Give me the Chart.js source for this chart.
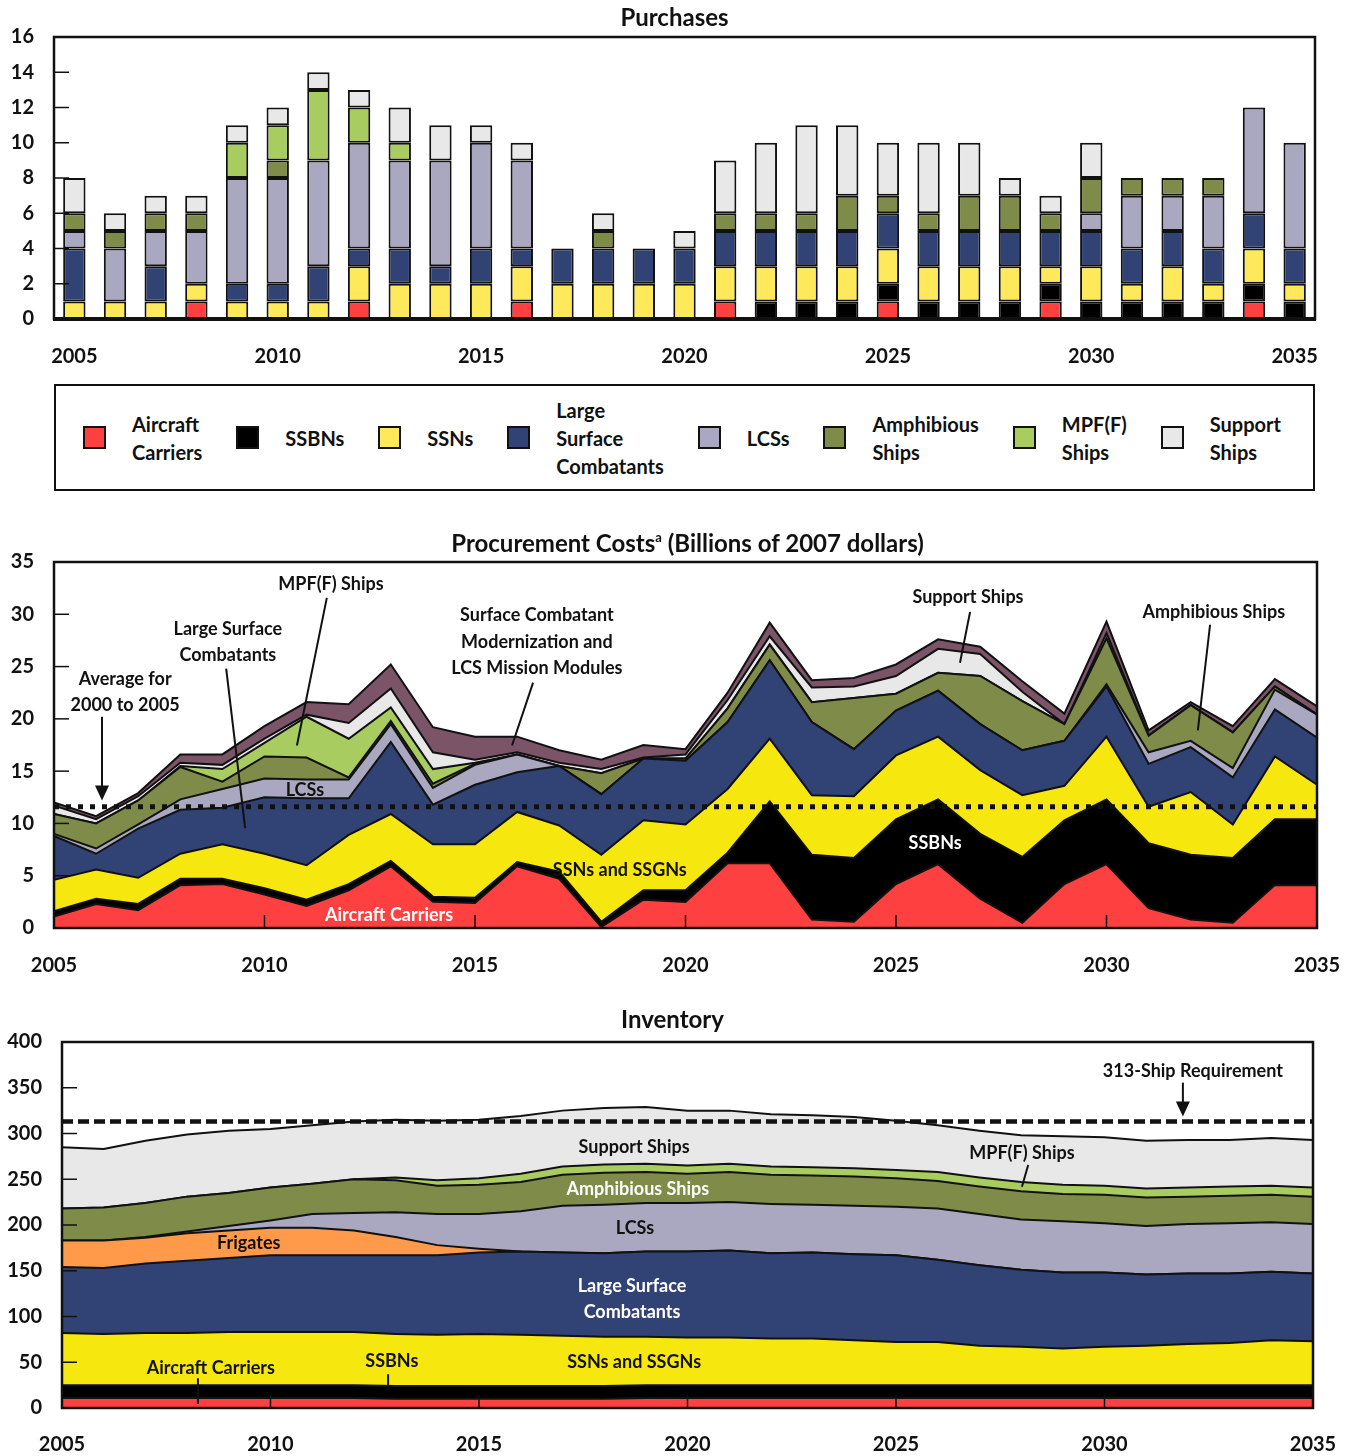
<!DOCTYPE html>
<html>
<head>
<meta charset="utf-8">
<script src="https://cdn.jsdelivr.net/npm/chart.js@4.4.1/dist/chart.umd.min.js"></script>
<style>
  body { margin: 0; background: #fff; font-family: Lato, "DejaVu Sans", sans-serif; color: #111; }
  #page { position: relative; width: 1355px; height: 1456px; overflow: hidden; }
  .panel { position: absolute; left: 0; }
  .title { position: absolute; left: 0; width: 1355px; text-align: center; font-weight: bold;
           font-size: 24px; line-height: 28px; z-index: 2; }
  .title sup { font-size: 13px; vertical-align: 10px; line-height: 0; }
  #legend { position: absolute; left: 54px; top: 384px; width: 1230px; height: 103px; padding-left: 27px;
            border: 2px solid #111; display: flex; align-items: center; gap: 34px; }
  .item { display: flex; align-items: center; }
  .swatch { width: 19px; height: 19px; border: 2px solid #111; margin-right: 26px; flex: none; }
  .label { font-weight: bold; font-size: 20px; line-height: 28px; }
</style>
</head>
<body>
<div id="page">
  <div class="title" style="top:3px; padding-right:6px; box-sizing:border-box">Purchases</div>
  <div class="panel" style="top:0"><canvas id="purchases" width="1355" height="375"></canvas></div>
  <div id="legend"></div>
  <div class="title" style="top:529px; padding-left:20px; box-sizing:border-box">Procurement Costs<sup>a</sup> (Billions of 2007 dollars)</div>
  <div class="panel" style="top:530px"><canvas id="costs" width="1355" height="460"></canvas></div>
  <div class="title" style="top:1005px; padding-right:10px; box-sizing:border-box">Inventory</div>
  <div class="panel" style="top:1010px"><canvas id="inventory" width="1355" height="446"></canvas></div>
</div>
<script>
// ---- data ----
var years = [2005, 2006, 2007, 2008, 2009, 2010, 2011, 2012, 2013, 2014, 2015,
             2016, 2017, 2018, 2019, 2020, 2021, 2022, 2023, 2024, 2025,
             2026, 2027, 2028, 2029, 2030, 2031, 2032, 2033, 2034, 2035];

// Purchases (number of ships)
var buyCarriers = [0,0,0,1,0,0,0,1,0,0,0,1,0,0,0,0,1,0,0,0,1,0,0,0,1,0,0,0,0,1,0];
var buySSBNs    = [0,0,0,0,0,0,0,0,0,0,0,0,0,0,0,0,0,1,1,1,1,1,1,1,1,1,1,1,1,1,1];
var buySSNs     = [1,1,1,1,1,1,1,2,2,2,2,2,2,2,2,2,2,2,2,2,2,2,2,2,1,2,1,2,1,2,1];
var buyLSCs     = [3,0,2,0,1,1,2,1,2,1,2,1,2,2,2,2,2,2,2,2,2,2,2,2,2,2,2,2,2,2,2];
var buyLCSs     = [1,3,2,3,6,6,6,6,5,6,6,5,0,0,0,0,0,0,0,0,0,0,0,0,0,1,3,2,3,6,6];
var buyAmphib   = [1,1,1,1,0,1,0,0,0,0,0,0,0,1,0,0,1,1,1,2,1,1,2,2,1,2,1,1,1,0,0];
var buyMPF      = [0,0,0,0,2,2,4,2,1,0,0,0,0,0,0,0,0,0,0,0,0,0,0,0,0,0,0,0,0,0,0];
var buySupport  = [2,1,1,1,1,1,1,1,2,2,1,1,0,1,0,1,3,4,5,4,3,4,3,1,1,2,0,0,0,0,0];

// Procurement costs (billions of 2007 dollars)
var costCarriers = [1.1,2.3,1.7,4.1,4.2,3.2,2.1,3.6,5.9,2.5,2.4,5.9,4.7,0.1,2.7,2.5,6.2,6.2,0.8,0.6,4.2,6.1,2.8,0.5,4.2,6.1,1.9,0.8,0.5,4.1,4.1];
var costSSBNs    = [0.5,0.5,0.6,0.6,0.5,0.6,0.6,0.6,0.5,0.5,0.5,0.4,0.7,0.5,0.9,1.1,1.0,5.9,6.2,6.1,6.2,6.2,6.2,6.3,6.1,6.2,6.2,6.2,6.2,6.3,6.3];
var costSSNs     = [3.0,2.8,2.5,2.4,3.3,3.3,3.3,4.7,4.5,5.0,5.1,4.8,4.4,6.4,6.7,6.3,6.1,6.0,5.7,5.9,6.1,6.0,6.1,5.9,3.3,6.0,3.5,6.0,3.2,6.0,3.3];
var costLSCs     = [4.2,1.5,4.7,4.2,3.5,5.4,6.4,3.5,6.9,3.8,5.7,3.8,5.7,5.8,5.9,6.1,6.4,7.5,7.0,4.5,4.3,4.4,4.4,4.3,4.3,4.8,4.1,4.3,4.5,4.5,4.5];
var costLCSs     = [0.2,0.5,0.4,1.0,1.8,1.8,1.8,1.8,1.7,1.6,1.9,1.7,0,0,0,0,0,0,0,0,0,0,0,0,0,0.2,1.1,0.6,0.9,1.9,2.2];
var costAmphib   = [1.9,2.4,2.3,3.1,0.7,2.1,2.1,0.2,0.3,0.4,0.1,0,0,2.0,0,0.2,1.3,1.5,1.9,4.9,1.6,1.7,4.6,4.7,1.6,4.4,1.6,3.4,3.4,0.3,0];
var costMPF      = [0,0,0,0.1,1.2,1.3,3.9,3.7,1.3,1.4,0.1,0,0,0,0,0,0,0,0,0,0,0,0,0,0,0,0,0,0,0,0];
var costSupport  = [0.8,0.4,0.4,0.3,0.4,0.4,0.2,1.5,1.8,1.6,0.3,0.2,0.3,0.4,0.1,0.4,0.8,0.8,1.4,1.1,1.7,2.3,2.1,0.9,0,0.5,0,0,0,0,0];
var costModern   = [0.3,0.3,0.3,0.8,1.0,1.2,1.2,1.8,2.3,2.4,2.2,1.5,1.2,0.9,1.2,0.5,0.7,1.3,0.7,0.8,1.1,0.9,0.7,1.0,1.0,1.1,0.5,0.3,0.6,0.7,0.8];
var costAverage20002005 = 11.6;

// Inventory (number of ships)
var invCarriers  = [11,11,11,11,11,11,11,11,10,10,10,10,10,10,11,11,11,11,11,11,11,11,11,11,11,11,11,11,11,11,11];
var invSSBNs     = [14,14,14,14,14,14,14,14,14,14,14,14,14,14,14,14,14,14,14,14,14,14,14,14,14,14,14,14,14,14,14];
var invSSNs      = [57,56,57,57,58,58,58,58,57,56,57,56,55,54,53,52,52,51,51,49,47,47,43,42,40,42,43,45,46,49,48];
var invLSCs      = [72,72,76,79,81,84,84,84,86,87,89,91,91,91,93,94,95,93,94,94,95,90,88,84,83,81,78,77,76,75,74];
var invFrigates  = [29,30,28,30,30,30,30,27,20,11,4,0,0,0,0,0,0,0,0,0,0,0,0,0,0,0,0,0,0,0,0];
var invLCSs      = [0,0,1,2,5,8,15,19,27,34,38,44,51,53,53,53,53,54,52,53,53,56,56,55,56,54,53,54,55,54,54];
var invAmphib    = [35,36,37,38,36,36,33,37,35,31,32,32,34,35,34,32,33,32,32,32,31,30,30,31,30,31,31,30,30,30,30];
var invMPF       = [0,0,0,0,0,0,0,0,3,6,7,9,9,9,9,9,9,9,9,9,9,10,10,10,10,10,10,10,10,10,10];
var invSupport   = [67,64,68,68,68,64,64,63,63,65,64,63,61,62,62,60,58,57,57,56,54,51,51,51,53,53,52,52,51,52,52];
var shipRequirement = 313;

// ---- styles ----
var RED = "#ff4040", BLACK = "#000000", NAVY = "#314275", LAV = "#aaa8c0",
    OLIVE = "#7f8b48", LGREEN = "#a9cc60", LGRAY = "#e8e8e8", MAUVE = "#7b5468",
    ORANGE = "#ff9a4a", YELLOW = "#f6e70f", BARYELLOW = "#fde95a";

Chart.defaults.font.family = "Lato, 'DejaVu Sans', sans-serif";
Chart.defaults.font.size = 20;
Chart.defaults.font.weight = "bold";
Chart.defaults.color = "#111";

// legend (html)
var legendItems = [
  [["Aircraft", "Carriers"], RED], [["SSBNs"], BLACK], [["SSNs"], BARYELLOW],
  [["Large", "Surface", "Combatants"], NAVY], [["LCSs"], LAV], [["Amphibious", "Ships"], OLIVE],
  [["MPF(F)", "Ships"], LGREEN], [["Support", "Ships"], LGRAY]
];
var legendEl = document.getElementById("legend");
legendItems.forEach(function(it) {
  var d = document.createElement("div");
  d.className = "item";
  d.innerHTML = '<div class="swatch" style="background:' + it[1] + '"></div><div class="label">' + it[0].join("<br>") + "</div>";
  legendEl.appendChild(d);
});

function yearTick(value, index) {
  return years[index] % 5 === 0 ? String(years[index]) : "";
}
// keep the plot edges fixed; the end labels may overhang into the margins
function fixX(h) {
  return function(s) { s.height = h; s.paddingLeft = 0; s.paddingRight = 0; };
}

// frame, inside ticks, reference lines and notes
var decoPlugin = {
  id: "deco",
  afterDraw: function(chart, args, o) {
    var ctx = chart.ctx, a = chart.chartArea, sx = chart.scales.x, sy = chart.scales.y;
    function X(yr) { return sx.getPixelForValue(yr - years[0]); }
    function line(x1, y1, x2, y2) { ctx.beginPath(); ctx.moveTo(x1, y1); ctx.lineTo(x2, y2); ctx.stroke(); }
    ctx.save();
    ctx.strokeStyle = "#111";
    ctx.fillStyle = "#111";

    if (o.refValue !== undefined) {
      ctx.lineWidth = o.refWidth;
      ctx.setLineDash(o.refDash);
      var ry = sy.getPixelForValue(o.refValue);
      line(a.left, ry, a.right, ry);
      ctx.setLineDash([]);
    }

    ctx.lineWidth = 1.5;
    sy.ticks.forEach(function(t) {
      var y = sy.getPixelForValue(t.value);
      line(a.left, y, a.left + 15, y);
    });
    (o.xTicks || []).forEach(function(yr) {
      var x = X(yr);
      line(x, a.bottom, x, a.bottom - 13);
    });

    ctx.lineWidth = 2.5;
    ctx.strokeRect(a.left, a.top, a.right - a.left, a.bottom - a.top);
    if (o.bottomWidth) {
      ctx.lineWidth = o.bottomWidth;
      line(a.left - 1, a.bottom, a.right + 1, a.bottom);
    }

    ctx.lineWidth = 2;
    (o.leaders || []).forEach(function(l) {
      var x1 = X(l.from[0]), y1 = sy.getPixelForValue(l.from[1]);
      var x2 = X(l.to[0]), y2 = sy.getPixelForValue(l.to[1]);
      if (l.arrow) {
        line(x1, y1, x2, y2 - 12);
        ctx.beginPath();
        ctx.moveTo(x2, y2);
        ctx.lineTo(x2 - 7, y2 - 15);
        ctx.lineTo(x2 + 7, y2 - 15);
        ctx.closePath();
        ctx.fill();
      } else {
        line(x1, y1, x2, y2);
      }
    });

    ctx.font = "bold 18px Lato, 'DejaVu Sans', sans-serif";
    ctx.textAlign = "center";
    ctx.textBaseline = "middle";
    (o.notes || []).forEach(function(n) {
      ctx.fillStyle = n.color || "#111";
      var x = X(n.at[0]), y = sy.getPixelForValue(n.at[1]);
      n.lines.forEach(function(t, i) { ctx.fillText(t, x, y + i * 26.5); });
    });
    ctx.restore();
  }
};
Chart.register(decoPlugin);

// ---- purchases ----
function barSet(label, data, color) {
  return { label: label, data: data.map(function(v) { return v === 0 ? null : v; }),
           backgroundColor: color, borderColor: "#111", borderWidth: 2,
           borderSkipped: false, barPercentage: 0.55, categoryPercentage: 1 };
}
new Chart(document.getElementById("purchases"), {
  type: "bar",
  data: {
    labels: years,
    datasets: [
      barSet("Aircraft Carriers", buyCarriers, RED),
      barSet("SSBNs", buySSBNs, BLACK),
      barSet("SSNs", buySSNs, BARYELLOW),
      barSet("Large Surface Combatants", buyLSCs, NAVY),
      barSet("LCSs", buyLCSs, LAV),
      barSet("Amphibious Ships", buyAmphib, OLIVE),
      barSet("MPF(F) Ships", buyMPF, LGREEN),
      barSet("Support Ships", buySupport, LGRAY)
    ]
  },
  options: {
    responsive: false,
    animation: false,
    layout: { padding: { top: 37, right: 40, left: 0, bottom: 0 } },
    plugins: { legend: { display: false }, tooltip: { enabled: false }, deco: { bottomWidth: 4 } },
    scales: {
      x: { stacked: true, grid: { display: false, drawTicks: false }, border: { display: false },
           ticks: { autoSkip: false, maxRotation: 0, padding: 26, callback: yearTick },
           afterFit: fixX(56) },
      y: { stacked: true, min: 0, max: 16, grid: { display: false, drawTicks: false }, border: { display: false },
           ticks: { stepSize: 2, padding: 20 },
           afterFit: function(s) { s.width = 54; } }
    }
  }
});

// ---- procurement costs ----
function areaSet(label, data, color, i) {
  return { label: label, data: data, backgroundColor: color, borderColor: "#111", borderWidth: 2,
           pointRadius: 0, tension: 0, fill: i === 0 ? "origin" : "-1" };
}
new Chart(document.getElementById("costs"), {
  type: "line",
  data: {
    labels: years,
    datasets: [
      areaSet("Aircraft Carriers", costCarriers, RED, 0),
      areaSet("SSBNs", costSSBNs, BLACK, 1),
      areaSet("SSNs and SSGNs", costSSNs, YELLOW, 2),
      areaSet("Large Surface Combatants", costLSCs, NAVY, 3),
      areaSet("LCSs", costLCSs, LAV, 4),
      areaSet("Amphibious Ships", costAmphib, OLIVE, 5),
      areaSet("MPF(F) Ships", costMPF, LGREEN, 6),
      areaSet("Support Ships", costSupport, LGRAY, 7),
      areaSet("Surface Combatant Modernization and LCS Mission Modules", costModern, MAUVE, 8)
    ]
  },
  options: {
    responsive: false,
    animation: false,
    layout: { padding: { top: 31, right: 38, left: 0, bottom: 0 } },
    plugins: {
      legend: { display: false }, tooltip: { enabled: false },
      deco: {
        refValue: costAverage20002005, refDash: [5, 7], refWidth: 5,
        xTicks: [2010, 2015, 2020, 2025, 2030],
        notes: [
          { lines: ["MPF(F) Ships"], at: [2011.58, 32.9] },
          { lines: ["Large Surface", "Combatants"], at: [2009.13, 28.6] },
          { lines: ["Average for", "2000 to 2005"], at: [2006.69, 23.84] },
          { lines: ["LCSs"], at: [2010.96, 13.16] },
          { lines: ["Surface Combatant", "Modernization and", "LCS Mission Modules"], at: [2016.47, 29.9] },
          { lines: ["Support Ships"], at: [2026.71, 31.66] },
          { lines: ["Amphibious Ships"], at: [2032.55, 30.23] },
          { lines: ["SSNs and SSGNs"], at: [2018.44, 5.53] },
          { lines: ["SSBNs"], at: [2025.93, 8.1], color: "#fff" },
          { lines: ["Aircraft Carriers"], at: [2012.96, 1.24], color: "#fff" }
        ],
        leaders: [
          { from: [2011.48, 31.57], to: [2010.77, 17.45] },
          { from: [2009.09, 24.8], to: [2009.54, 9.54] },
          { from: [2006.14, 20.2], to: [2006.14, 12.2], arrow: true },
          { from: [2016.38, 23.46], to: [2015.88, 17.45] },
          { from: [2026.76, 30.23], to: [2026.52, 25.37] },
          { from: [2032.46, 29.0], to: [2032.17, 18.9] }
        ]
      }
    },
    scales: {
      x: { grid: { display: false, drawTicks: false }, border: { display: false },
           ticks: { autoSkip: false, maxRotation: 0, padding: 26, callback: yearTick },
           afterFit: fixX(62) },
      y: { stacked: true, min: 0, max: 35, grid: { display: false, drawTicks: false }, border: { display: false },
           ticks: { stepSize: 5, padding: 20 },
           afterFit: function(s) { s.width = 54; } }
    }
  }
});

// ---- inventory ----
new Chart(document.getElementById("inventory"), {
  type: "line",
  data: {
    labels: years,
    datasets: [
      areaSet("Aircraft Carriers", invCarriers, RED, 0),
      areaSet("SSBNs", invSSBNs, BLACK, 1),
      areaSet("SSNs and SSGNs", invSSNs, YELLOW, 2),
      areaSet("Large Surface Combatants", invLSCs, NAVY, 3),
      areaSet("Frigates", invFrigates, ORANGE, 4),
      areaSet("LCSs", invLCSs, LAV, 5),
      areaSet("Amphibious Ships", invAmphib, OLIVE, 6),
      areaSet("MPF(F) Ships", invMPF, LGREEN, 7),
      areaSet("Support Ships", invSupport, LGRAY, 8)
    ]
  },
  options: {
    responsive: false,
    animation: false,
    layout: { padding: { top: 29, right: 42, left: 0, bottom: 0 } },
    plugins: {
      legend: { display: false }, tooltip: { enabled: false },
      deco: {
        refValue: shipRequirement, refDash: [11, 5], refWidth: 4.5,
        xTicks: [2010, 2015, 2020, 2025, 2030],
        notes: [
          { lines: ["313-Ship Requirement"], at: [2032.12, 368.6] },
          { lines: ["Support Ships"], at: [2018.72, 285.1] },
          { lines: ["MPF(F) Ships"], at: [2028.02, 278.6] },
          { lines: ["Amphibious Ships"], at: [2018.81, 239.6], color: "#fff" },
          { lines: ["LCSs"], at: [2018.74, 196.2] },
          { lines: ["Frigates"], at: [2009.48, 179.9] },
          { lines: ["Large Surface", "Combatants"], at: [2018.67, 133.3], color: "#fff" },
          { lines: ["Aircraft Carriers"], at: [2008.57, 43.4] },
          { lines: ["SSBNs"], at: [2012.91, 50.9] },
          { lines: ["SSNs and SSGNs"], at: [2018.72, 49.9] }
        ],
        leaders: [
          { from: [2031.88, 355.6], to: [2031.88, 318.7], arrow: true },
          { from: [2028.17, 265.6], to: [2028.02, 241.7] },
          { from: [2008.26, 32.5], to: [2008.26, 4.3] },
          { from: [2012.82, 36.9], to: [2012.82, 19.5] }
        ]
      }
    },
    scales: {
      x: { grid: { display: false, drawTicks: false }, border: { display: false },
           ticks: { autoSkip: false, maxRotation: 0, padding: 25, callback: yearTick },
           afterFit: fixX(48) },
      y: { stacked: true, min: 0, max: 400, grid: { display: false, drawTicks: false }, border: { display: false },
           ticks: { stepSize: 50, padding: 20 },
           afterFit: function(s) { s.width = 62; } }
    }
  }
});
</script>
</body>
</html>
